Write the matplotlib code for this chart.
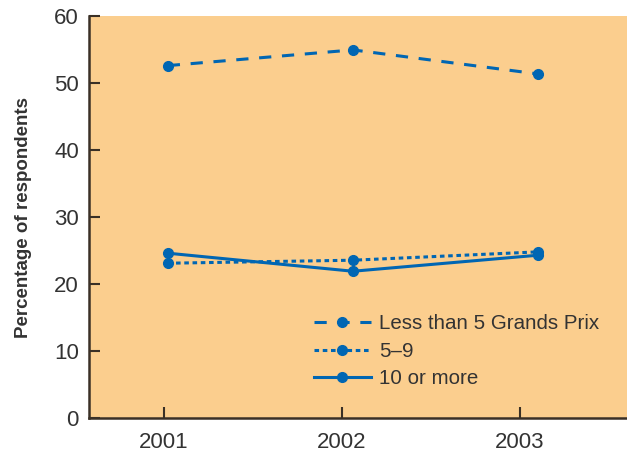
import matplotlib
matplotlib.use("Agg")
import matplotlib.pyplot as plt

# 数据
years = ["2001", "2002", "2003"]
less_than_5 = [52.65, 55.0, 51.4]
five_to_nine = [23.1, 23.55, 24.8]
ten_or_more = [24.6, 21.9, 24.3]
series_labels = ["Less than 5 Grands Prix", "5\u20139", "10 or more"]

blue = "#0066b3"
bg = "#fbce8e"
txt = "#333333"

plt.rcParams['font.family'] = ['Liberation Sans', 'DejaVu Sans']

fig = plt.figure(figsize=(6.27, 4.55), dpi=100)
ax = fig.add_axes([0.1415, 0.082, 0.8585, 0.8818])
ax.set_facecolor(bg)

x = range(len(years))
ax.plot(x, less_than_5, color=blue, lw=2.2, dashes=(4, 3.5), marker='o', ms=7,
        label=series_labels[0])
ax.plot(x, five_to_nine, color=blue, lw=2.2, dashes=(1.5, 1.2), marker='o', ms=7,
        label=series_labels[1])
ax.plot(x, ten_or_more, color=blue, lw=2.2, marker='o', ms=7,
        label=series_labels[2])

ax.set_xlim(-0.427, 2.48)
ax.set_ylim(0, 60)
ax.set_yticks(range(0, 61, 10))
# 原图的刻度线略微偏离数据点
ax.set_xticks([-0.02, 0.94, 1.9])
ax.set_xticklabels(years)

for s in ['top', 'right']:
    ax.spines[s].set_visible(False)
for s in ['left', 'bottom']:
    ax.spines[s].set_color('#3a3026')
    ax.spines[s].set_linewidth(1.8)

ax.tick_params(axis='y', direction='in', length=8, width=1.5, color='#3a3026',
               labelsize=16, labelcolor=txt, pad=7)
ax.tick_params(axis='x', direction='in', length=8, width=1.5, color='#3a3026',
               labelsize=16, labelcolor=txt, pad=10.5)

ax.set_ylabel("Percentage of respondents", fontsize=13.5, fontweight='bold',
              color=txt, labelpad=16)

leg = ax.legend(loc='upper left', bbox_to_anchor=(0.418, 0.258), frameon=False,
                fontsize=14.8, handlelength=2.8, handletextpad=0.4,
                labelspacing=0.42, borderpad=0, borderaxespad=0)
for t in leg.get_texts():
    t.set_color(txt)

plt.savefig("out.png", dpi=100)
